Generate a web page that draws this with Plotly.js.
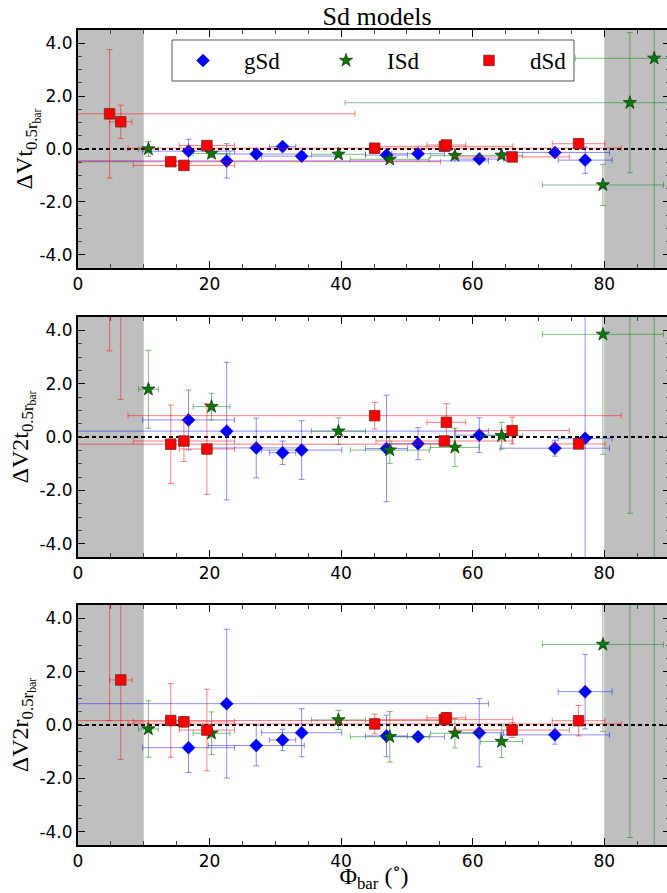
<!DOCTYPE html>
<html>
<head>
<meta charset="utf-8">
<script src="https://cdn.plot.ly/plotly-3.0.1.min.js"></script>
<style>html,body{margin:0;padding:0;overflow:hidden;background:#fff;}#chart{width:670px;height:893px;}</style>
</head>
<body>
<div id="chart"></div>
<script>
// ---- data ----
const seriesNames = ["gSd", "ISd", "dSd"];

// gSd (blue diamonds)
const blueX    = [16.8, 22.6, 27.1, 31.1, 34.0, 46.9, 51.7, 61.0, 72.5, 77.1];
const blueXerr = [7.0, 39.8, 7.3, 2.0, 6.1, 3.2, 4.0, 3.7, 8.3, 4.1];
const blueVt     = [-0.08, -0.45, -0.19, 0.09, -0.27, -0.23, -0.18, -0.38, -0.13, -0.42];
const blueVtErr  = [0.45, 0.65, 0.15, 0.10, 0.10, 0.10, 0.10, 0.10, 0.10, 0.50];
const blueV2t    = [0.64, 0.22, -0.41, -0.59, -0.49, -0.43, -0.25, 0.07, -0.42, -0.05];
const blueV2tErr = [1.12, 2.58, 1.12, 0.44, 1.10, 2.00, 0.60, 0.65, 0.30, 9.0];
const blueV2r    = [-0.85, 0.80, -0.77, -0.56, -0.29, -0.41, -0.44, -0.29, -0.37, 1.25];
const blueV2rErr = [0.93, 2.79, 0.76, 0.40, 0.90, 0.78, 0.10, 1.28, 0.35, 1.40];

// ISd (green stars)
const greenX    = [10.7, 20.3, 39.6, 47.4, 57.3, 64.4, 79.8, 83.9, 87.6];
const greenXerr = [1.5, 2.8, 4.1, 6.0, 3.7, 3.2, 9.2, 43.3, 12.0];
const greenVt     = [0.00, -0.17, -0.20, -0.39, -0.25, -0.24, -1.36, 1.75, 3.43];
const greenVtErr  = [0.28, 0.15, 0.10, 0.10, 0.10, 0.10, 0.78, 2.65, 9.0];
const greenV2t    = [1.79, 1.14, 0.22, -0.49, -0.39, 0.05, 3.85, 6.0, 7.0];
const greenV2tErr = [1.46, 0.50, 0.50, 0.50, 0.72, 0.50, 4.50, 8.86, 15.0];
const greenV2r    = [-0.15, -0.31, 0.19, -0.44, -0.31, -0.62, 3.02, 6.0, 7.0];
const greenV2rErr = [1.06, 0.80, 0.36, 0.95, 0.55, 0.60, 3.27, 10.22, 15.0];

// dSd (red squares)
const redX    = [4.8, 6.5, 14.1, 16.1, 19.6, 45.1, 55.7, 56.0, 66.0, 76.1];
const redXerr = [37.3, 1.7, 41.0, 7.7, 4.2, 37.5, 10.4, 2.95, 8.7, 4.0];
const redVt     = [1.33, 1.03, -0.48, -0.62, 0.13, 0.03, 0.10, 0.15, -0.30, 0.20];
const redVtErr  = [2.43, 0.63, 0.10, 0.10, 0.17, 0.10, 0.10, 0.15, 0.10, 0.15];
const redV2t    = [5.6, 5.0, -0.27, -0.15, -0.45, 0.80, -0.15, 0.55, 0.24, -0.26];
const redV2tErr = [2.37, 3.59, 1.47, 0.77, 1.70, 0.50, 0.15, 0.70, 0.50, 0.10];
const redV2r    = [5.5, 1.69, 0.17, 0.12, -0.19, 0.04, 0.20, 0.27, -0.19, 0.16];
const redV2rErr = [5.34, 2.98, 1.38, 0.20, 1.53, 0.37, 0.20, 0.20, 0.28, 0.57];

// shaded excluded bar-angle ranges and reference line
const shadeRanges = [[0, 10], [80, 90]];
const refLineX = [0, 90];
const refLineY = [0, 0];

// axis ticks
const yTickVals = [-4, -2, 0, 2, 4];
const yTickText = ["-4.0", "-2.0", "0.0", "2.0", "4.0"];
const xTickVals = [0, 20, 40, 60, 80];

const yTitles = [
  "ΔVt<sub>0.5r<sub>bar</sub></sub>",
  "ΔV2t<sub>0.5r<sub>bar</sub></sub>",
  "ΔV2r<sub>0.5r<sub>bar</sub></sub>"
];
const xTitle = "Φ<sub>bar</sub> (<sup>∘</sup>)";

// ---- styles ----
const SERIF = "Liberation Serif, DejaVu Serif, serif";
const SANS = "DejaVu Sans, sans-serif";
const styles = {
  gSd: {color: "#0000ff", err: "rgba(0,0,255,0.45)", symbol: "diamond", size: 10, line: {color: "#0000cc", width: 0.5}},
  ISd: {color: "#007a00", err: "rgba(0,128,0,0.5)", symbol: "star", size: 10, line: {color: "#1a3a1a", width: 0.8}},
  dSd: {color: "#ff0000", err: "rgba(255,0,0,0.5)", symbol: "square", size: 10.5, line: {color: "#6a2a2a", width: 0.8}}
};

const panels = [
  {blue: [blueVt, blueVtErr], green: [greenVt, greenVtErr], red: [redVt, redVtErr]},
  {blue: [blueV2t, blueV2tErr], green: [greenV2t, greenV2tErr], red: [redV2t, redV2tErr]},
  {blue: [blueV2r, blueV2rErr], green: [greenV2r, greenV2rErr], red: [redV2r, redV2rErr]}
];

function pointTrace(name, x, xerr, y, yerr, xa, ya, showLegend) {
  const s = styles[name];
  return {
    type: "scatter", mode: "markers", name: name,
    x: x, y: y, xaxis: xa, yaxis: ya,
    showlegend: showLegend, legendgroup: name,
    marker: {symbol: s.symbol, size: s.size, color: s.color, line: s.line},
    error_x: {type: "data", array: xerr, visible: true, color: s.err, thickness: 1, width: 3},
    error_y: {type: "data", array: yerr, visible: true, color: s.err, thickness: 1, width: 3},
    cliponaxis: true, hoverinfo: "x+y"
  };
}

const traces = [];
const shapes = [];
panels.forEach((p, i) => {
  const sfx = i === 0 ? "" : String(i + 1);
  const xa = "x" + sfx, ya = "y" + sfx;
  traces.push({type: "scatter", mode: "lines", x: refLineX, y: refLineY, xaxis: xa, yaxis: ya,
    showlegend: false, hoverinfo: "skip", line: {color: "#000", width: 2.2, dash: "4px,3px"}});
  traces.push(pointTrace("gSd", blueX, blueXerr, p.blue[0], p.blue[1], xa, ya, i === 0));
  traces.push(pointTrace("ISd", greenX, greenXerr, p.green[0], p.green[1], xa, ya, i === 0));
  traces.push(pointTrace("dSd", redX, redXerr, p.red[0], p.red[1], xa, ya, i === 0));
  shadeRanges.forEach(r => shapes.push({type: "rect", xref: xa, yref: ya + " domain",
    x0: r[0], x1: r[1], y0: 0, y1: 1, fillcolor: "#bfbfbf", line: {width: 0}, layer: "below"}));
});

// legend frame
const W = 670, H = 893, L = 78;
const px2x = px => (px - L) / (W - L);
const px2y = py => 1 - py / H;
shapes.push({type: "rect", xref: "paper", yref: "paper",
  x0: px2x(172), x1: px2x(574), y0: px2y(81), y1: px2y(40),
  fillcolor: "#ffffff", line: {color: "#555", width: 1}, layer: "above"});

function xAxis(anchor, showTitle) {
  const a = {
    anchor: anchor, domain: [0, 1], range: [0, 90],
    tickmode: "array", tickvals: xTickVals,
    ticks: "inside", ticklen: 7, tickwidth: 1, tickcolor: "#000",
    minor: {dtick: 5, tick0: 0, ticks: "inside", ticklen: 4, tickwidth: 1, tickcolor: "#444"},
    showline: true, linecolor: "#000", linewidth: 2, mirror: "ticks",
    showgrid: false, zeroline: false,
    tickfont: {family: SANS, size: 17, color: "#000"}
  };
  if (showTitle) a.title = {text: xTitle, font: {family: SERIF, size: 24, color: "#000"}, standoff: 8};
  return a;
}
function yAxis(anchor, dom, title) {
  return {
    anchor: anchor, domain: dom, range: [-4.5, 4.5],
    tickmode: "array", tickvals: yTickVals, ticktext: yTickText,
    ticks: "inside", ticklen: 7, tickwidth: 1, tickcolor: "#000",
    minor: {dtick: 0.5, tick0: 0, ticks: "inside", ticklen: 4, tickwidth: 1, tickcolor: "#444"},
    showline: true, linecolor: "#000", linewidth: 2, mirror: "ticks",
    showgrid: false, zeroline: false,
    tickfont: {family: SANS, size: 17, color: "#000"},
    title: {text: title, font: {family: SERIF, size: 24, color: "#000"}, standoff: 0}
  };
}

const layout = {
  width: W, height: H,
  margin: {l: L, r: 0, t: 0, b: 0},
  paper_bgcolor: "#fff", plot_bgcolor: "#fff",
  title: {text: "Sd models", x: 377 / W, xanchor: "center", y: 1 - 16 / H, yanchor: "middle",
          font: {family: SERIF, size: 26, color: "#000"}},
  showlegend: true,
  legend: {orientation: "h", x: px2x(162), xanchor: "left", y: px2y(60.5), yanchor: "middle",
           bgcolor: "rgba(0,0,0,0)", borderwidth: 0, itemwidth: 72,
           entrywidth: 56, entrywidthmode: "pixels", itemclick: false, itemdoubleclick: false,
           font: {family: SERIF, size: 23, color: "#000"}},
  xaxis: xAxis("y", false),
  yaxis: yAxis("x", [px2y(268), px2y(30)], yTitles[0]),
  xaxis2: xAxis("y2", false),
  yaxis2: yAxis("x2", [px2y(557), px2y(317)], yTitles[1]),
  xaxis3: xAxis("y3", true),
  yaxis3: yAxis("x3", [px2y(845), px2y(605)], yTitles[2]),
  shapes: shapes
};

Plotly.newPlot("chart", traces, layout, {staticPlot: true, displayModeBar: false});
</script>
</body>
</html>
